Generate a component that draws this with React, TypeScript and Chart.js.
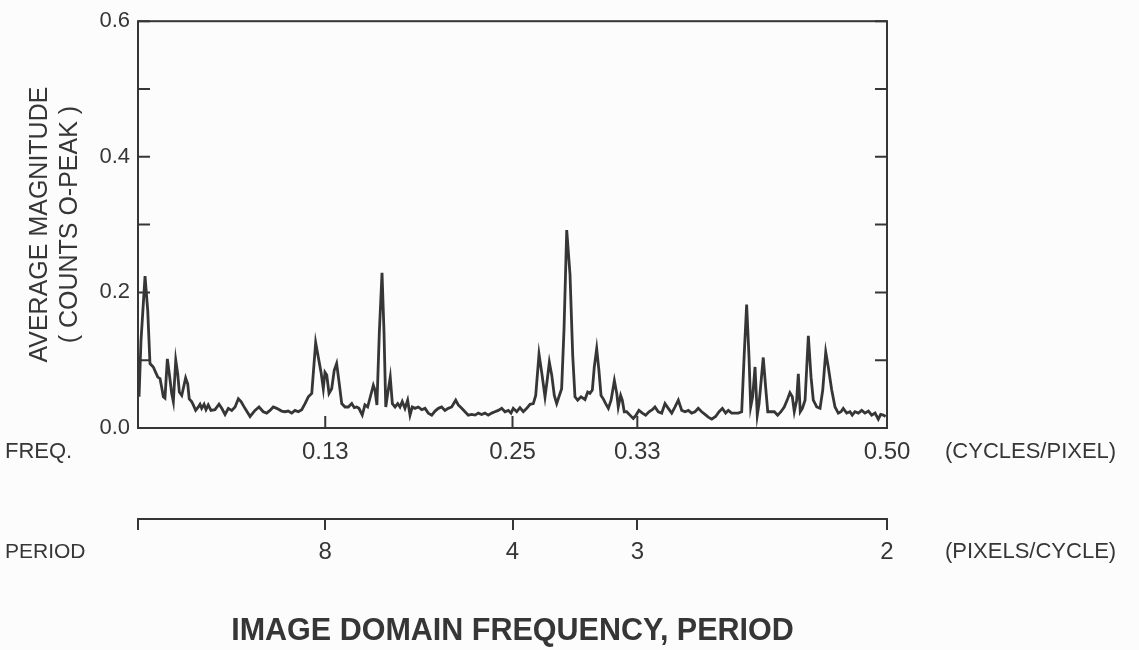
import React, { useEffect, useRef } from 'react';
import { Chart, registerables } from 'chart.js';

Chart.register(...registerables);

// Frequency (cycles/pixel) of each sample of the spectrum
const FREQ = [
  0.0007, 0.0020, 0.0047, 0.0065, 0.0080, 0.0102, 0.0118, 0.0132, 0.0147, 0.0158,
  0.0169, 0.0180, 0.0196, 0.0209, 0.0225, 0.0236, 0.0252, 0.0265, 0.0276, 0.0292,
  0.0318, 0.0332, 0.0342, 0.0358, 0.0369, 0.0385, 0.0403, 0.0414, 0.0425, 0.0441,
  0.0454, 0.0469, 0.0487, 0.0514, 0.0541, 0.0559, 0.0581, 0.0603, 0.0626, 0.0648,
  0.0670, 0.0688, 0.0714, 0.0748, 0.0781, 0.0808, 0.0836, 0.0859, 0.0881, 0.0903,
  0.0926, 0.0959, 0.0981, 0.1003, 0.1026, 0.1048, 0.1070, 0.1093, 0.1115, 0.1137,
  0.1160, 0.1186, 0.1204, 0.1222, 0.1237, 0.1248, 0.1260, 0.1275, 0.1293, 0.1310,
  0.1326, 0.1342, 0.1360, 0.1382, 0.1404, 0.1427, 0.1444, 0.1460, 0.1475, 0.1497,
  0.1515, 0.1533, 0.1571, 0.1582, 0.1595, 0.1611, 0.1629, 0.1642, 0.1654, 0.1667,
  0.1684, 0.1698, 0.1716, 0.1734, 0.1749, 0.1764, 0.1782, 0.1800, 0.1816, 0.1831,
  0.1849, 0.1871, 0.1894, 0.1916, 0.1938, 0.1961, 0.1983, 0.2005, 0.2027, 0.2049,
  0.2071, 0.2094, 0.2121, 0.2138, 0.2161, 0.2183, 0.2205, 0.2228, 0.2250, 0.2272,
  0.2294, 0.2316, 0.2338, 0.2361, 0.2383, 0.2405, 0.2428, 0.2450, 0.2472, 0.2490,
  0.2505, 0.2528, 0.2550, 0.2572, 0.2595, 0.2617, 0.2639, 0.2655, 0.2677, 0.2695,
  0.2717, 0.2733, 0.2746, 0.2762, 0.2779, 0.2795, 0.2810, 0.2828, 0.2844, 0.2862,
  0.2884, 0.2902, 0.2917, 0.2935, 0.2957, 0.2984, 0.3002, 0.3017, 0.3033, 0.3046,
  0.3062, 0.3077, 0.3091, 0.3106, 0.3122, 0.3140, 0.3158, 0.3180, 0.3196, 0.3206,
  0.3222, 0.3233, 0.3246, 0.3262, 0.3284, 0.3306, 0.3322, 0.3344, 0.3367, 0.3389,
  0.3411, 0.3433, 0.3451, 0.3473, 0.3496, 0.3518, 0.3540, 0.3563, 0.3585, 0.3607,
  0.3630, 0.3652, 0.3674, 0.3696, 0.3718, 0.3740, 0.3763, 0.3785, 0.3807, 0.3830,
  0.3856, 0.3879, 0.3901, 0.3923, 0.3941, 0.3963, 0.3985, 0.4007, 0.4030, 0.4047,
  0.4063, 0.4079, 0.4090, 0.4103, 0.4119, 0.4134, 0.4146, 0.4174, 0.4190, 0.4204,
  0.4226, 0.4248, 0.4270, 0.4292, 0.4314, 0.4337, 0.4352, 0.4368, 0.4381, 0.4397,
  0.4408, 0.4421, 0.4435, 0.4453, 0.4475, 0.4493, 0.4508, 0.4531, 0.4553, 0.4571,
  0.4591, 0.4608, 0.4631, 0.4653, 0.4675, 0.4693, 0.4708, 0.4731, 0.4753, 0.4768,
  0.4786, 0.4809, 0.4831, 0.4853, 0.4876, 0.4898, 0.4920, 0.4942, 0.4958, 0.4975,
  0.4991,
];

// Average magnitude (counts 0-peak) at each frequency
const MAGNITUDE = [
  0.046, 0.129, 0.224, 0.173, 0.095, 0.090, 0.082, 0.075, 0.073, 0.060,
  0.046, 0.044, 0.102, 0.080, 0.051, 0.039, 0.100, 0.080, 0.053, 0.048,
  0.074, 0.065, 0.043, 0.039, 0.034, 0.026, 0.031, 0.035, 0.029, 0.035,
  0.027, 0.034, 0.026, 0.027, 0.035, 0.029, 0.020, 0.029, 0.026, 0.031,
  0.043, 0.039, 0.029, 0.017, 0.026, 0.031, 0.024, 0.022, 0.026, 0.031,
  0.029, 0.025, 0.024, 0.025, 0.022, 0.026, 0.024, 0.027, 0.036, 0.046,
  0.051, 0.126, 0.104, 0.082, 0.058, 0.082, 0.078, 0.051, 0.058, 0.085,
  0.095, 0.068, 0.036, 0.031, 0.031, 0.036, 0.030, 0.031, 0.029, 0.019,
  0.034, 0.031, 0.063, 0.056, 0.034, 0.141, 0.229, 0.143, 0.031, 0.051,
  0.075, 0.036, 0.031, 0.036, 0.031, 0.039, 0.029, 0.041, 0.019, 0.031,
  0.029, 0.031, 0.027, 0.029, 0.022, 0.019, 0.025, 0.029, 0.031, 0.026,
  0.029, 0.031, 0.041, 0.034, 0.029, 0.024, 0.019, 0.020, 0.019, 0.022,
  0.020, 0.022, 0.019, 0.022, 0.024, 0.026, 0.029, 0.024, 0.026, 0.022,
  0.029, 0.024, 0.030, 0.024, 0.029, 0.035, 0.036, 0.048, 0.109, 0.082,
  0.046, 0.073, 0.097, 0.078, 0.048, 0.036, 0.046, 0.058, 0.146, 0.292,
  0.226, 0.107, 0.046, 0.041, 0.046, 0.042, 0.053, 0.051, 0.056, 0.090,
  0.117, 0.085, 0.048, 0.043, 0.036, 0.029, 0.041, 0.070, 0.051, 0.031,
  0.048, 0.041, 0.024, 0.024, 0.019, 0.014, 0.018, 0.026, 0.022, 0.019,
  0.024, 0.027, 0.031, 0.024, 0.022, 0.036, 0.029, 0.022, 0.031, 0.041,
  0.026, 0.024, 0.026, 0.022, 0.024, 0.029, 0.024, 0.020, 0.016, 0.013,
  0.017, 0.024, 0.029, 0.022, 0.026, 0.022, 0.022, 0.022, 0.024, 0.109,
  0.182, 0.104, 0.031, 0.046, 0.090, 0.019, 0.036, 0.104, 0.060, 0.024,
  0.024, 0.024, 0.019, 0.024, 0.031, 0.043, 0.052, 0.046, 0.024, 0.041,
  0.080, 0.024, 0.029, 0.041, 0.136, 0.075, 0.041, 0.031, 0.029, 0.056,
  0.112, 0.090, 0.056, 0.031, 0.022, 0.024, 0.029, 0.022, 0.024, 0.019,
  0.024, 0.022, 0.026, 0.022, 0.025, 0.019, 0.022, 0.013, 0.020, 0.019,
  0.017,
];

const FREQ_TICKS = [0.125, 0.25, 1 / 3, 0.5];
const FREQ_TICK_LABELS = ['0.13', '0.25', '0.33', '0.50'];
const PERIOD_TICKS = [0, 0.125, 0.25, 1 / 3, 0.5];
const PERIOD_TICK_LABELS = ['', '8', '4', '3', '2'];
const Y_TICKS = [0, 0.1, 0.2, 0.3, 0.4, 0.5, 0.6];
const Y_TICK_LABELS = ['0.0', '', '0.2', '', '0.4', '', '0.6'];

const Y_TITLE = ['AVERAGE MAGNITUDE', '( COUNTS O-PEAK )'];
const X_TITLE = 'IMAGE DOMAIN FREQUENCY, PERIOD';
const FREQ_ROW = ['FREQ.', '(CYCLES/PIXEL)'];
const PERIOD_ROW = ['PERIOD', '(PIXELS/CYCLE)'];

const INK = '#363636';
const PAPER = '#fcfcfc';
const FONT = "'Liberation Sans', Arial, Helvetica, sans-serif";

const decorPlugin = {
  id: 'decor',
  beforeDraw(chart: any) {
    const { ctx, width, height } = chart;
    ctx.save();
    ctx.fillStyle = PAPER;
    ctx.fillRect(0, 0, width, height);
    ctx.restore();
  },
  afterDraw(chart: any) {
    const { ctx, chartArea: a, scales } = chart;
    ctx.save();
    ctx.strokeStyle = INK;
    ctx.lineWidth = 2;
    ctx.strokeRect(a.left, a.top, a.right - a.left, a.bottom - a.top);
    const tick = 12;
    ctx.beginPath();
    Y_TICKS.forEach((v) => {
      const y = scales.y.getPixelForValue(v);
      ctx.moveTo(a.left, y);
      ctx.lineTo(a.left + tick, y);
      ctx.moveTo(a.right, y);
      ctx.lineTo(a.right - tick, y);
    });
    FREQ_TICKS.forEach((v) => {
      const x = scales.x.getPixelForValue(v);
      ctx.moveTo(x, a.bottom);
      ctx.lineTo(x, a.bottom - tick);
    });
    ctx.stroke();

    ctx.fillStyle = INK;
    ctx.font = `22px ${FONT}`;
    ctx.textBaseline = 'middle';
    ctx.textAlign = 'left';
    const freqY = scales.x.top + 24;
    const periodY = scales.x2.top + 33;
    ctx.fillText(FREQ_ROW[0], 5, freqY);
    ctx.fillText(FREQ_ROW[1], 945, freqY);
    ctx.font = `21px ${FONT}`;
    ctx.fillText(PERIOD_ROW[0], 5, periodY);
    ctx.font = `22px ${FONT}`;
    ctx.fillText(PERIOD_ROW[1], 945, periodY);
    ctx.restore();
  },
};

export default function App() {
  const canvasRef = useRef<HTMLCanvasElement | null>(null);

  useEffect(() => {
    if (!canvasRef.current) return;
    const points = FREQ.map((f, i) => ({ x: f, y: MAGNITUDE[i] }));
    const chart = new Chart(canvasRef.current, {
      type: 'line',
      data: {
        datasets: [
          {
            data: points,
            borderColor: INK,
            borderWidth: 2.8,
            pointRadius: 0,
            tension: 0,
            fill: false,
          },
        ],
      },
      options: {
        responsive: false,
        animation: false,
        devicePixelRatio: 1,
        layout: { padding: { left: 0, right: 252, top: 18, bottom: 0 } },
        plugins: {
          legend: { display: false },
          tooltip: { enabled: false },
          title: { display: false },
        },
        scales: {
          x: {
            type: 'linear',
            position: 'bottom',
            weight: 0,
            min: 0,
            max: 0.5,
            grid: { display: false, drawTicks: false },
            border: { display: false },
            afterBuildTicks: (s: any) => {
              s.ticks = FREQ_TICKS.map((v) => ({ value: v }));
            },
            afterFit: (s: any) => {
              s.height = 91;
            },
            ticks: {
              autoSkip: false,
              maxRotation: 0,
              padding: 10,
              color: INK,
              font: { family: FONT, size: 24 },
              callback: (_v: any, i: number) => FREQ_TICK_LABELS[i],
            },
          },
          x2: {
            type: 'linear',
            position: 'bottom',
            weight: 1,
            min: 0,
            max: 0.5,
            grid: {
              display: true,
              drawOnChartArea: false,
              drawTicks: true,
              tickLength: 11,
              color: INK,
              lineWidth: 2,
            },
            border: { display: true, color: INK, width: 2 },
            afterBuildTicks: (s: any) => {
              s.ticks = PERIOD_TICKS.map((v) => ({ value: v }));
            },
            afterFit: (s: any) => {
              s.height = 131;
            },
            ticks: {
              autoSkip: false,
              maxRotation: 0,
              padding: 8,
              color: INK,
              font: { family: FONT, size: 24 },
              callback: (_v: any, i: number) => PERIOD_TICK_LABELS[i],
            },
            title: {
              display: true,
              text: X_TITLE,
              color: INK,
              font: { family: FONT, size: 30.5, weight: 'bold', lineHeight: 1.2 },
              padding: { top: 0, bottom: 0 },
            },
          },
          y: {
            type: 'linear',
            position: 'left',
            min: 0,
            max: 0.6,
            grid: { display: false, drawTicks: false },
            border: { display: false },
            afterBuildTicks: (s: any) => {
              s.ticks = Y_TICKS.map((v) => ({ value: v }));
            },
            afterFit: (s: any) => {
              s.width = 138;
            },
            ticks: {
              autoSkip: false,
              padding: 8,
              color: INK,
              font: { family: FONT, size: 22 },
              callback: (_v: any, i: number) => Y_TICK_LABELS[i],
            },
            title: {
              display: true,
              text: Y_TITLE,
              color: INK,
              font: { family: FONT, size: 25, lineHeight: 1.2 },
              padding: { top: 25, bottom: 0 },
            },
          },
        },
      },
      plugins: [decorPlugin],
    });
    return () => chart.destroy();
  }, []);

  return (
    <div style={{ position: 'absolute', left: 0, top: 0, width: 1139, height: 650 }}>
      <canvas ref={canvasRef} width={1139} height={650} style={{ display: 'block' }} />
    </div>
  );
}
